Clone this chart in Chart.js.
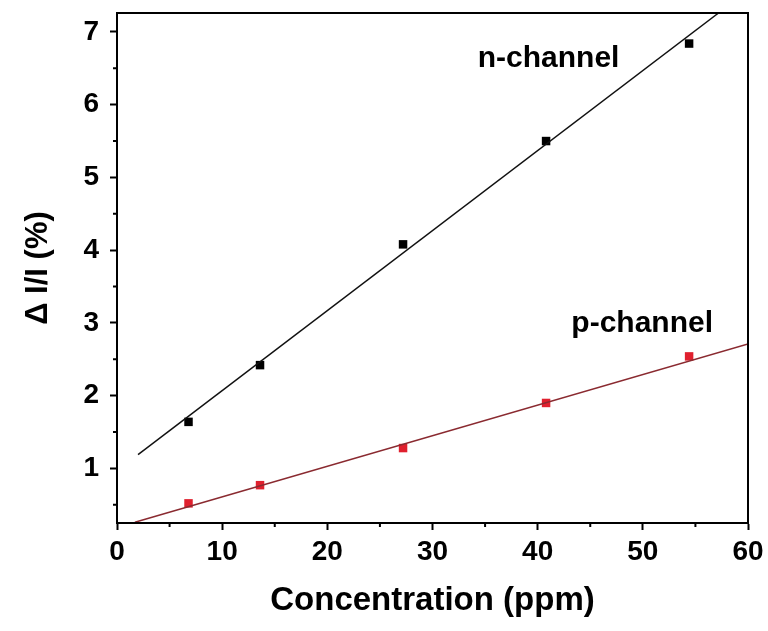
<!DOCTYPE html>
<html>
<head>
<meta charset="utf-8">
<script src="https://cdn.jsdelivr.net/npm/chart.js@4"></script>
<style>
  html, body { margin: 0; padding: 0; background: #fff; }
  #wrap { width: 768px; height: 631px; }
</style>
</head>
<body>
<div id="wrap"><canvas id="chart"></canvas></div>
<script>
// concentration (ppm)
var concentration = [6.8, 13.6, 27.2, 40.8, 54.4];
// ΔI/I (%)
var nChannel = [1.64, 2.42, 4.08, 5.50, 6.84];
var pChannel = [0.52, 0.77, 1.28, 1.90, 2.54];

// linear fit end points
var nFitX = [2.0, 57.2];
var nFitY = [1.19, 7.26];
var pFitX = [1.7, 60];
var pFitY = [0.26, 2.71];

var xTicks = [0, 10, 20, 30, 40, 50, 60];
var xMinor = [5, 15, 25, 35, 45, 55];
var yTicks = [1, 2, 3, 4, 5, 6, 7];
var yMinor = [0.5, 1.5, 2.5, 3.5, 4.5, 5.5, 6.5];

var FONT = '"Liberation Sans", Arial, Helvetica, sans-serif';

function pts(xs, ys) {
  return xs.map(function (x, i) { return { x: x, y: ys[i] }; });
}

// frame, minor ticks and channel labels
var decor = {
  id: "decor",
  afterDraw: function (chart) {
    var ctx = chart.ctx, a = chart.chartArea;
    var xs = chart.scales.x, ys = chart.scales.y;
    ctx.save();
    ctx.strokeStyle = "#000";
    ctx.lineWidth = 2;
    ctx.strokeRect(a.left, a.top, a.right - a.left, a.bottom - a.top);

    ctx.beginPath();
    xMinor.forEach(function (v) {
      var px = xs.getPixelForValue(v);
      ctx.moveTo(px, a.bottom);
      ctx.lineTo(px, a.bottom + 4);
    });
    yMinor.forEach(function (v) {
      var py = ys.getPixelForValue(v);
      ctx.moveTo(a.left, py);
      ctx.lineTo(a.left - 4, py);
    });
    ctx.stroke();

    ctx.fillStyle = "#000";
    ctx.font = "bold 30px " + FONT;
    ctx.textBaseline = "alphabetic";
    ctx.fillText("n-channel", xs.getPixelForValue(34.3), ys.getPixelForValue(6.52));
    ctx.fillText("p-channel", xs.getPixelForValue(43.2), ys.getPixelForValue(2.87));
    ctx.restore();
  }
};

new Chart(document.getElementById("chart").getContext("2d"), {
  type: "scatter",
  data: {
    datasets: [
      {
        type: "line",
        data: pts(nFitX, nFitY),
        borderColor: "#111",
        borderWidth: 1.5,
        pointRadius: 0,
        fill: false
      },
      {
        type: "line",
        data: pts(pFitX, pFitY),
        borderColor: "#8a2a30",
        borderWidth: 1.5,
        pointRadius: 0,
        fill: false
      },
      {
        label: "n-channel",
        data: pts(concentration, nChannel),
        pointStyle: "rect",
        pointRadius: 6,
        pointBorderWidth: 0,
        backgroundColor: "#000"
      },
      {
        label: "p-channel",
        data: pts(concentration, pChannel),
        pointStyle: "rect",
        pointRadius: 6,
        pointBorderWidth: 0,
        backgroundColor: "#e0202e"
      }
    ]
  },
  options: {
    responsive: true,
    maintainAspectRatio: false,
    animation: false,
    layout: { padding: { top: 13, right: 20, left: 0, bottom: 0 } },
    plugins: {
      legend: { display: false },
      tooltip: { enabled: false }
    },
    scales: {
      x: {
        type: "linear",
        min: 0,
        max: 60,
        afterBuildTicks: function (s) {
          s.ticks = xTicks.map(function (v) { return { value: v }; });
        },
        afterFit: function (s) {
          s.height = 108;
          s.paddingLeft = 0;
          s.paddingRight = 0;
        },
        grid: { drawOnChartArea: false, tickLength: 7, tickWidth: 2, tickColor: "#000" },
        border: { color: "#000", width: 2 },
        ticks: {
          color: "#000",
          padding: 5,
          maxRotation: 0,
          font: { family: FONT, size: 28, weight: "bold" }
        },
        title: {
          display: true,
          text: "Concentration (ppm)",
          color: "#000",
          padding: { top: 0, bottom: 10 },
          font: { family: FONT, size: 33, weight: "bold" }
        }
      },
      y: {
        type: "linear",
        min: 0.25,
        max: 7.26,
        afterBuildTicks: function (s) {
          s.ticks = yTicks.map(function (v) { return { value: v }; });
        },
        afterFit: function (s) {
          s.width = 117;
          s.paddingTop = 0;
          s.paddingBottom = 0;
        },
        grid: { drawOnChartArea: false, tickLength: 7, tickWidth: 2, tickColor: "#000" },
        border: { color: "#000", width: 2 },
        ticks: {
          color: "#000",
          padding: 11,
          font: { family: FONT, size: 28, weight: "bold" }
        },
        title: {
          display: true,
          text: "Δ I/I (%)",
          color: "#000",
          padding: { top: 20, bottom: 0 },
          font: { family: FONT, size: 31, weight: "bold" }
        }
      }
    }
  },
  plugins: [decor]
});
</script>
</body>
</html>
